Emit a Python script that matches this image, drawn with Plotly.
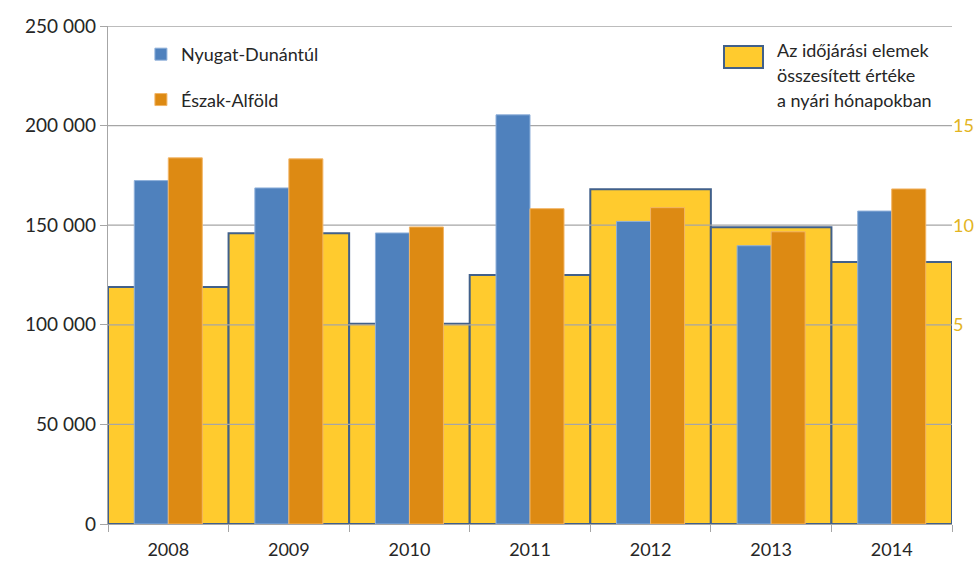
import plotly.graph_objects as go

years = [2008, 2009, 2010, 2011, 2012, 2013, 2014]
nyugat = [172400, 168700, 146100, 205400, 151900, 139700, 157100]
eszak = [183800, 183300, 149100, 158300, 158800, 146700, 168200]
weather = [6.9, 9.6, 5.05, 7.5, 11.8, 9.9, 8.15]

left_ticks = [0, 50000, 100000, 150000, 200000, 250000]
right_ticks = [5, 10, 15]
right_range = [-5, 20]
grid_right_units = [0, 5, 10, 15, 20]  # right-axis values that coincide with left gridlines

name_ny = "Nyugat-Dunántúl"
name_es = "Észak-Alföld"
weather_lines = ["Az időjárási elemek", "összesített értéke", "a nyári hónapokban"]

BLUE = "#4F81BD"
ORANGE = "#DD8A13"
YELLOW = "#FFCB2E"
YEL_LINE = "#41608A"
GRID = "#A6A6A6"
GOLD = "#E3B422"
TXT = "#262626"
FONT = "Lato"

fig = go.Figure()

# yellow background bars on the right axis (main subplot)
fig.add_trace(go.Bar(
    x=years, y=[v - right_range[0] for v in weather], base=right_range[0],
    width=1, yaxis="y", xaxis="x",
    marker=dict(color=YELLOW, line=dict(color=YEL_LINE, width=2)),
    showlegend=False, name=" ".join(weather_lines), hoverinfo="skip"))

# gridlines drawn above yellow bars but below blue/orange bars
gx, gy = [], []
for g in grid_right_units:
    gx += [years[0] - 0.5, years[-1] + 0.5, None]
    gy += [g, g, None]
fig.add_trace(go.Scatter(
    x=gx, y=gy, mode="lines", yaxis="y", xaxis="x",
    line=dict(color=GRID, width=1.3), showlegend=False,
    hoverinfo="skip", cliponaxis=False))

fig.add_trace(go.Bar(
    x=years, y=nyugat, name=name_ny, yaxis="y2", legendgroup="a",
    marker=dict(color=BLUE, line=dict(color="#8FB0DA", width=1))))
fig.add_trace(go.Bar(
    x=years, y=eszak, name=name_es, yaxis="y2", legendgroup="b",
    marker=dict(color=ORANGE, line=dict(color="#F2B566", width=1))))

fig.update_layout(
    width=974, height=562,
    margin=dict(l=108, r=22, t=26, b=38),
    paper_bgcolor="white", plot_bgcolor="white",
    separators=", ",
    barmode="group", bargap=0.436, bargroupgap=0,
    font=dict(family=FONT, color=TXT, size=19),
    xaxis=dict(
        range=[years[0] - 0.5, years[-1] + 0.5], automargin=False,
        tickmode="array", tickvals=years, ticktext=[str(y) for y in years],
        ticks="", showgrid=False, zeroline=False,
        showline=True, linecolor=GRID, linewidth=1.3,
        tickfont=dict(size=18, color=TXT), ticklabelstandoff=9,
        minor=dict(ticks="outside", tickmode="array",
                   tickvals=[y - 0.5 for y in years] + [years[-1] + 0.5],
                   ticklen=7, tickcolor=GRID, tickwidth=1.3, showgrid=False),
    ),
    yaxis=dict(
        side="right", range=right_range, automargin=False,
        tickmode="array", tickvals=right_ticks,
        showgrid=False, zeroline=False, showline=False, ticks="",
        tickfont=dict(size=18, color=GOLD),
    ),
    yaxis2=dict(
        overlaying="y", side="left", range=[0, 250000], automargin=False,
        tickmode="array", tickvals=left_ticks,
        tickformat=",d", exponentformat="none",
        showgrid=False, zeroline=False,
        showline=True, linecolor=GRID, linewidth=1.3,
        ticks="outside", ticklen=7, tickcolor=GRID, tickwidth=1.3,
        tickfont=dict(size=19, color=TXT),
    ),
    legend=dict(
        x=0.039, y=0.98, xanchor="left", yanchor="top",
        bgcolor="rgba(0,0,0,0)", font=dict(size=18, color=TXT),
        tracegroupgap=19, itemwidth=30,
    ),
)

# legend for the yellow series
fig.add_shape(type="rect", xref="paper", yref="paper",
              x0=(724 - 108) / 844, x1=(763 - 108) / 844,
              y0=(524 - 68) / 498, y1=(524 - 46) / 498,
              fillcolor=YELLOW, line=dict(color=YEL_LINE, width=2))
for i, line in enumerate(weather_lines):
    fig.add_annotation(xref="paper", yref="paper",
                       x=(775 - 108) / 844, y=(524 - (50 + 25 * i)) / 498,
                       xanchor="left", yanchor="middle", showarrow=False,
                       text=line, font=dict(size=18, color=TXT))

fig.write_html("out.html", config={"displayModeBar": False},
               post_script="document.body.style.margin='0';document.body.style.overflow='hidden';")
